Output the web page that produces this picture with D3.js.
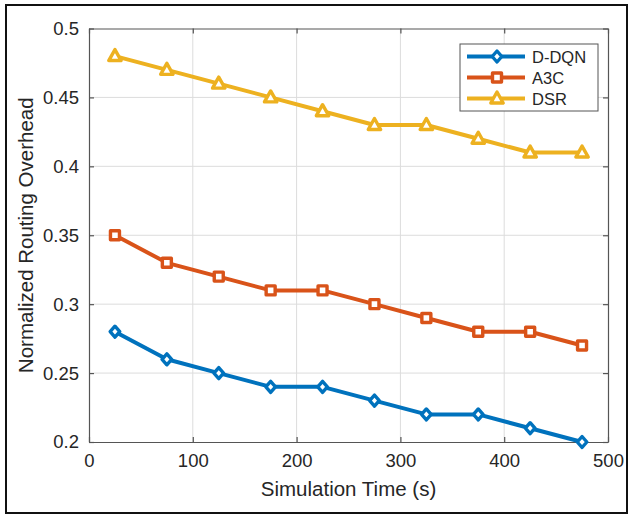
<!DOCTYPE html>
<html><head><meta charset="utf-8">
<script src="https://cdn.jsdelivr.net/npm/d3@7"></script>
<style>body{margin:0;background:#fff}svg{display:block}text{font-family:"Liberation Sans",Arial,sans-serif}</style>
</head><body><svg id="c" width="630" height="515"></svg>
<script>
const times = [25,75,125,175,225,275,325,375,425,475];
const seriesNames = ["D-DQN","A3C","DSR"];
const ddqn = [0.28,0.26,0.25,0.24,0.24,0.23,0.22,0.22,0.21,0.20];
const a3c  = [0.35,0.33,0.32,0.31,0.31,0.30,0.29,0.28,0.28,0.27];
const dsr  = [0.48,0.47,0.46,0.45,0.44,0.43,0.43,0.42,0.41,0.41];
const xTicks = [0,100,200,300,400,500];
const yTicks = [0.2,0.25,0.3,0.35,0.4,0.45,0.5];
const yTickLabels = ["0.2","0.25","0.3","0.35","0.4","0.45","0.5"];

const colors = ["#0072BD","#D95319","#EDB120"];
const markers = ["diamond","square","triangle"];
const data = [ddqn,a3c,dsr];

const svg = d3.select("#c");
svg.append("rect").attr("x",6).attr("y",5).attr("width",621).attr("height",508)
  .attr("fill","#fff").attr("stroke","#111").attr("stroke-width",2);

const L=89,R=608,T=28.5,B=442;
const x = d3.scaleLinear().domain([0,500]).range([L,R]);
const y = d3.scaleLinear().domain([0.2,0.5]).range([B,T]);

// grid
const g = svg.append("g");
g.selectAll(".gx").data(xTicks.slice(1,-1)).join("line")
  .attr("x1",d=>x(d)).attr("x2",d=>x(d)).attr("y1",T).attr("y2",B)
  .attr("stroke","#dcdcdc").attr("stroke-width",1);
g.selectAll(".gy").data(yTicks.slice(1,-1)).join("line")
  .attr("y1",d=>y(d)).attr("y2",d=>y(d)).attr("x1",L).attr("x2",R)
  .attr("stroke","#dcdcdc").attr("stroke-width",1);

// axes
const ax = d3.axisBottom(x).tickValues(xTicks).tickSizeInner(-5).tickSizeOuter(0).tickPadding(12);
const ay = d3.axisLeft(y).tickValues(yTicks).tickFormat((d,i)=>yTickLabels[i]).tickSizeInner(-5).tickSizeOuter(0).tickPadding(10);
const axT = d3.axisTop(x).tickValues(xTicks).tickSizeInner(-5).tickSizeOuter(0).tickFormat("");
const ayR = d3.axisRight(y).tickValues(yTicks).tickSizeInner(-5).tickSizeOuter(0).tickFormat("");
function style(sel){sel.selectAll("path").attr("stroke","#555").attr("stroke-width",1.2);
  sel.selectAll("line").attr("stroke","#555").attr("stroke-width",1.2);
  sel.selectAll("text").attr("fill","#262626").style("font-size","18.5px");}
svg.append("g").attr("transform",`translate(0,${B})`).call(ax).call(style);
svg.append("g").attr("transform",`translate(${L},0)`).call(ay).call(style);
svg.append("g").attr("transform",`translate(0,${T})`).call(axT).call(style);
svg.append("g").attr("transform",`translate(${R},0)`).call(ayR).call(style);

svg.append("text").attr("x",(L+R)/2).attr("y",496).attr("text-anchor","middle")
  .attr("fill","#262626").style("font-size","20.5px").text("Simulation Time (s)");
svg.append("text").attr("transform",`translate(33,${(T+B)/2}) rotate(-90)`).attr("text-anchor","middle")
  .attr("fill","#262626").style("font-size","20.5px").text("Normalized Routing Overhead");

function markerPath(type){
  if(type==="diamond") return "M0,-5.5L4.8,0L0,5.5L-4.8,0Z";
  if(type==="square") return "M-4.5,-4.5H4.5V4.5H-4.5Z";
  return "M0,-6.5L6.2,4.5L-6.2,4.5Z";
}
const line = d3.line().x((d,i)=>x(times[i])).y(d=>y(d));
data.forEach((vals,si)=>{
  const s = svg.append("g");
  s.append("path").datum(vals).attr("d",line).attr("fill","none")
    .attr("stroke",colors[si]).attr("stroke-width",4).attr("stroke-linejoin","round");
  s.selectAll("path.m").data(vals).join("path").attr("class","m")
    .attr("transform",(d,i)=>`translate(${x(times[i])},${y(d)})`)
    .attr("d",markerPath(markers[si])).attr("fill","#fff")
    .attr("stroke",colors[si]).attr("stroke-width",3.4).attr("stroke-linejoin","round");
});

// legend
const lg = svg.append("g").attr("transform","translate(460,44)");
lg.append("rect").attr("width",138).attr("height",67).attr("fill","#fff").attr("stroke","#555").attr("stroke-width",1);
seriesNames.forEach((n,i)=>{
  const yy = 12.5+i*21;
  lg.append("line").attr("x1",7).attr("x2",65).attr("y1",yy).attr("y2",yy)
    .attr("stroke",colors[i]).attr("stroke-width",4);
  lg.append("path").attr("transform",`translate(37,${yy})`).attr("d",markerPath(markers[i]))
    .attr("fill","#fff").attr("stroke",colors[i]).attr("stroke-width",3.4).attr("stroke-linejoin","round");
  lg.append("text").attr("x",72).attr("y",yy+6).attr("fill","#262626").style("font-size","16.5px").text(n);
});
</script></body></html>
